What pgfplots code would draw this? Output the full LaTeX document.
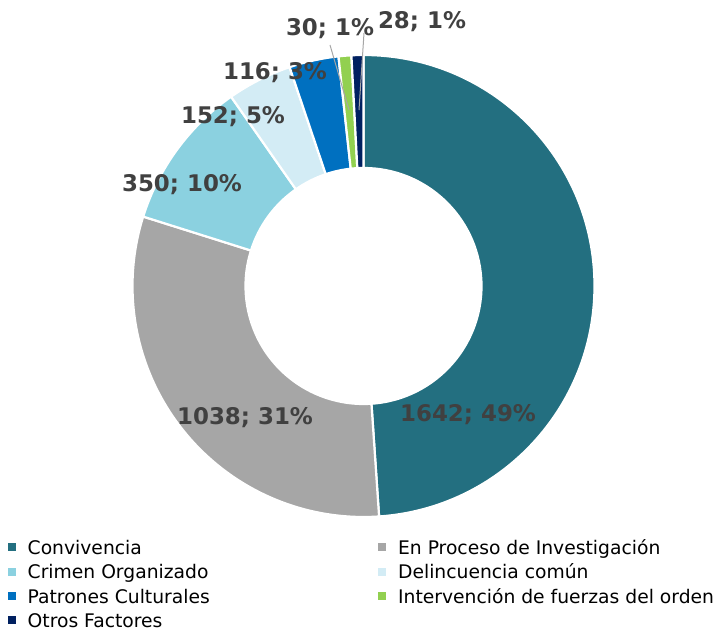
\documentclass[border=0pt]{standalone}
\usepackage{pgfplots}
\pgfplotsset{compat=1.18}
\usepackage{pgfplotstable}
\usepackage{fontspec}
\setmainfont{DejaVu Sans}

\definecolor{pc0}{HTML}{236F80}
\definecolor{pc1}{HTML}{A6A6A6}
\definecolor{pc2}{HTML}{8BD1E0}
\definecolor{pc3}{HTML}{D3ECF5}
\definecolor{pc4}{HTML}{0070C0}
\definecolor{pc5}{HTML}{92D050}
\definecolor{pc6}{HTML}{002060}
\definecolor{lab}{HTML}{404040}
\definecolor{leader}{HTML}{A6A6A6}

% value, label centre (x, y) in picture units
\pgfplotstableread[col sep=comma]{
value,lx,ly
1642,468,216
1038,245,213
350,182,446
152,233,514
116,275,558
30,330,602
28,422,609
}\piedata

\gdef\pieTotal{0}
\foreach \i in {0,...,6}{%
  \pgfplotstablegetelem{\i}{value}\of\piedata
  \pgfmathsetmacro\pieTmp{\pieTotal+\pgfplotsretval}%
  \xdef\pieTotal{\pieTmp}%
}
\gdef\pieCum{0}
\foreach \i in {0,...,6}{%
  \pgfplotstablegetelem{\i}{value}\of\piedata
  \let\pieVal\pgfplotsretval
  \pgfmathsetmacro\pieStart{90-360*(\pieCum/\pieTotal)}%
  \pgfmathsetmacro\pieEnd{90-360*((\pieCum+\pieVal)/\pieTotal)}%
  \pgfmathtruncatemacro\piePct{round(100*(\pieVal/\pieTotal))}%
  \expandafter\xdef\csname sA\i\endcsname{\pieStart}%
  \expandafter\xdef\csname sB\i\endcsname{\pieEnd}%
  \expandafter\xdef\csname sP\i\endcsname{\piePct}%
  \expandafter\xdef\csname sV\i\endcsname{\pieVal}%
  \pgfplotstablegetelem{\i}{lx}\of\piedata
  \expandafter\xdef\csname sX\i\endcsname{\pgfplotsretval}%
  \pgfplotstablegetelem{\i}{ly}\of\piedata
  \expandafter\xdef\csname sY\i\endcsname{\pgfplotsretval}%
  \pgfmathsetmacro\pieTmp{\pieCum+\pieVal}%
  \xdef\pieCum{\pieTmp}%
}

\begin{document}
\begin{tikzpicture}
\begin{axis}[
  name=ax, at={(0,0)}, anchor=south west,
  x=1bp, y=1bp, xmin=0, xmax=716, ymin=0, ymax=631,
  hide axis, clip=false,
  legend columns=2,
  legend cell align=left,
  legend style={
    draw=none, fill=none, inner sep=0pt, outer sep=0pt,
    at={(axis cs:8,90.4)}, anchor=north west,
    font=\fontsize{18.8}{22}\selectfont,
    nodes={inner sep=0pt, text height=14bp, text depth=4.5bp},
    row sep=5.9bp,
    /tikz/every odd column/.append style={column sep=12.3bp},
  },
]
\pgfplotsinvokeforeach{0,...,6}{
  \draw[draw=white, line width=2.2bp, fill=pc#1]
    ([shift={(\csname sA#1\endcsname:231bp)}]axis cs:363.5,345)
    arc[start angle=\csname sA#1\endcsname, end angle=\csname sB#1\endcsname, radius=231bp]
    -- ([shift={(\csname sB#1\endcsname:118bp)}]axis cs:363.5,345)
    arc[start angle=\csname sB#1\endcsname, end angle=\csname sA#1\endcsname, radius=118bp]
    -- cycle;
}
% leader lines
\draw[leader, line width=1bp] (axis cs:330,586) -- (axis cs:349,521);
\draw[leader, line width=1bp] (axis cs:364,598) -- (axis cs:359,521);
\pgfplotsinvokeforeach{0,...,6}{
  \node[font=\bfseries\fontsize{23}{23}\selectfont, text=lab, inner sep=0pt]
    at (axis cs:\csname sX#1\endcsname,\csname sY#1\endcsname)
    {\csname sV#1\endcsname; \csname sP#1\endcsname\%};
}
\addlegendimage{legend image code/.code={\fill[pc0] (0bp,-0.5bp) rectangle (7bp,6.5bp);}}
\addlegendentry{\makebox[350.7bp][l]{Convivencia}}
\addlegendimage{legend image code/.code={\fill[pc1] (0bp,-0.5bp) rectangle (7bp,6.5bp);}}
\addlegendentry{En Proceso de Investigación}
\addlegendimage{legend image code/.code={\fill[pc2] (0bp,-0.5bp) rectangle (7bp,6.5bp);}}
\addlegendentry{\makebox[350.7bp][l]{Crimen Organizado}}
\addlegendimage{legend image code/.code={\fill[pc3] (0bp,-0.5bp) rectangle (7bp,6.5bp);}}
\addlegendentry{Delincuencia común}
\addlegendimage{legend image code/.code={\fill[pc4] (0bp,-0.5bp) rectangle (7bp,6.5bp);}}
\addlegendentry{\makebox[350.7bp][l]{Patrones Culturales}}
\addlegendimage{legend image code/.code={\fill[pc5] (0bp,-0.5bp) rectangle (7bp,6.5bp);}}
\addlegendentry{Intervención de fuerzas del orden}
\addlegendimage{legend image code/.code={\fill[pc6] (0bp,-0.5bp) rectangle (7bp,6.5bp);}}
\addlegendentry{\makebox[350.7bp][l]{Otros Factores}}
\end{axis}
\pgfresetboundingbox
\path (ax.south west) rectangle (ax.north east);
\end{tikzpicture}
\end{document}
